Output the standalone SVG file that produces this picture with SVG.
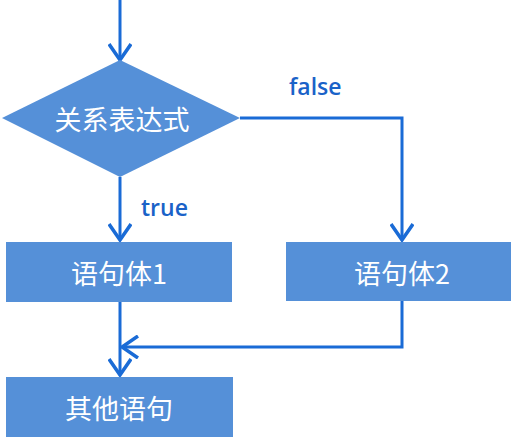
<svg xmlns="http://www.w3.org/2000/svg" width="514" height="442" viewBox="0 0 514 442">
<defs>
<style>
.shape{fill:#5590d8;}
.lbl{font-family:"Noto Sans CJK SC","Noto Sans",sans-serif;font-size:27px;fill:#ffffff;text-anchor:middle;dominant-baseline:central;}
.edge{fill:none;stroke:#1a6bd6;stroke-width:3;}
.elbl{font-family:"Open Sans","Liberation Sans",sans-serif;font-size:23px;font-weight:600;fill:#1a62c8;}
</style>
<marker id="arr" viewBox="0 0 24 24" refX="21" refY="12" markerWidth="24" markerHeight="24" markerUnits="userSpaceOnUse" orient="auto">
<path d="M5,1 L21,12 L5,23" fill="none" stroke="#1a6bd6" stroke-width="3.5"/>
</marker>
</defs>
<rect width="514" height="442" fill="#ffffff"/>
<g id="connectors">
<path class="edge" d="M120,0 V60" marker-end="url(#arr)"/>
<path class="edge" d="M120,177 V240" marker-end="url(#arr)"/>
<path class="edge" d="M240,118 H402 V240" marker-end="url(#arr)"/>
<path class="edge" d="M120,302 V375" marker-end="url(#arr)"/>
<path class="edge" d="M402,301 V347 H122" marker-end="url(#arr)"/>
<text class="elbl" x="141" y="216">true</text>
<text class="elbl" x="289" y="95">false</text>
</g>
<g id="cond">
<polygon class="shape" points="120,60 240,118 120,177 2,118"/>
<text class="lbl" x="122" y="118">关系表达式</text>
</g>
<g id="stmt1">
<rect class="shape" x="6" y="242" width="226" height="60"/>
<text class="lbl" x="119" y="272">语句体1</text>
</g>
<g id="stmt2">
<rect class="shape" x="286" y="242" width="225" height="59"/>
<text class="lbl" x="402" y="272">语句体2</text>
</g>
<g id="other">
<rect class="shape" x="6" y="377" width="227" height="60"/>
<text class="lbl" x="119" y="407">其他语句</text>
</g>
</svg>
